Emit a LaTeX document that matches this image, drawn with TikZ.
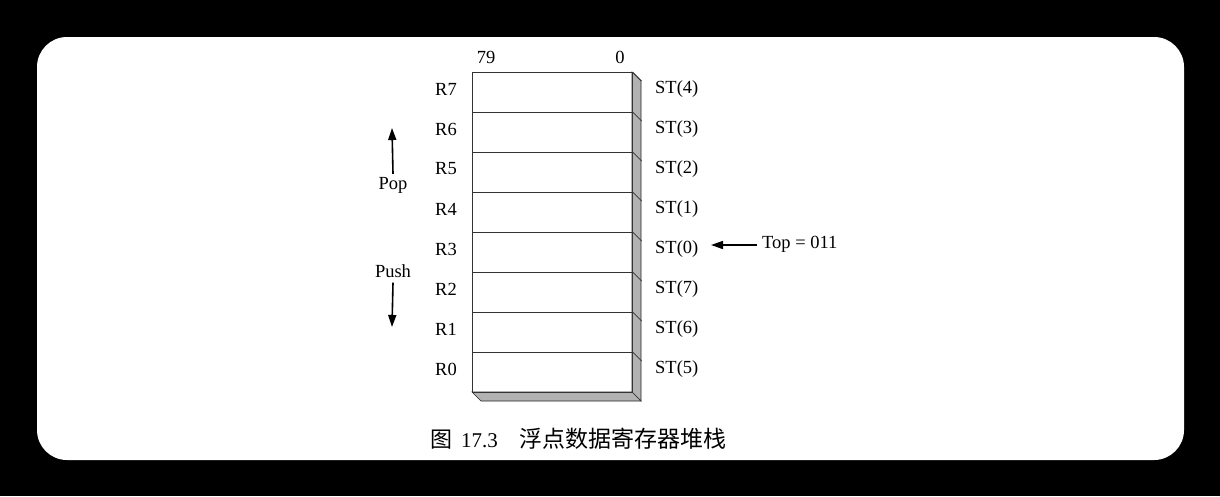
\documentclass[tikz,border=0pt]{standalone}
\usepackage{fontspec}
\setmainfont{Liberation Serif}
\newfontfamily\cjk{Noto Sans CJK SC}
\usetikzlibrary{arrows.meta}
\begin{document}
\begin{tikzpicture}[x=1pt,y=-1pt,
  reg/.style={draw=black!80,line width=0.6pt,minimum width=160pt,minimum height=40pt,inner sep=0pt,anchor=north west},
  lbl/.style={font=\fontsize{18.5}{20}\selectfont,inner sep=0pt},
  face/.style={draw=black!85,line width=0.6pt,fill=black!30},
  arr/.style={line width=1.6pt,-{Triangle[length=12pt,width=8pt]}}]
\useasboundingbox (0,0) rectangle (1220,496);
\fill[black] (0,0) rectangle (1220,496);
\fill[white,rounded corners=30pt] (37,37) rectangle (1184,460);
% side faces
\path[face] (632,72) -- (641,81) -- (641,401) -- (632,392) -- cycle;
\path[face] (472,392) -- (481,401) -- (641,401) -- (632,392) -- cycle;
% registers
\foreach \i/\s [count=\k from 0] in {7/4,6/3,5/2,4/1,3/0,2/7,1/6,0/5}{
  \node[reg] (r\i) at (472,72+40*\k) {};
  \node[lbl] (rl\i) at (446,89+40*\k) {R\i};
  \node[lbl,anchor=west] (st\i) at (655,89+40*\k) {ST(\s)};
  \draw[black!80,line width=0.6pt] (r\i.north east) -- ++(9,9);
}
\node[lbl] (c79) at (486,57) {79};
\node[lbl] (c0) at (620,57) {0};
% Pop / Push
\node[lbl] (pop) at (393,185) {Pop};
\node[lbl] (push) at (393,271) {Push};
\coordinate (popend) at (392,128);
\coordinate (pushend) at (392,327);
\draw[arr] (pop.north) ++(0,-3) coordinate (popstart) (popstart) -- (popend);
\draw[arr] (push.south) ++(0,5) coordinate (pushstart) (pushstart) -- (pushend);
% Top
\node[lbl,anchor=west] (top) at (762,244) {Top = 011};
\coordinate (topend) at (711,245);
\draw[arr] (top.west) ++(-5,1) coordinate (topstart) (topstart) -- (topend);
% caption
\node[inner sep=0pt,anchor=west] (cap) at (430,439) {\cjk\fontsize{22}{24}\selectfont 图\hspace{9pt}{\rmfamily\fontsize{21}{22}\selectfont 17.3}\hspace{22pt}{\fontsize{23}{24}\selectfont 浮点数据寄存器堆栈}};
\end{tikzpicture}
\end{document}
